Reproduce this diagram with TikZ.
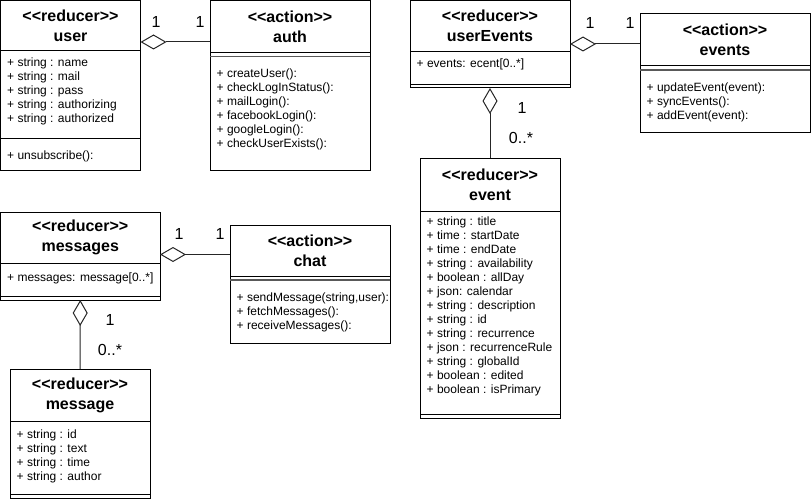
\documentclass[tikz,border=0pt]{standalone}
\usepackage{fontspec}
\setmainfont{Liberation Sans}
\usetikzlibrary{arrows.meta,calc}

% stereotype in guillemet-free form: the kerns keep << and >> as two characters each
\newcommand\stereo[1]{<\kern0pt<#1>\kern0pt>}

% #1 name, #2 x, #3 y, #4 width, #5 height, #6 header height, #7 header text
\newcommand\umlbox[7]{%
  \node[box, minimum width=#4pt, minimum height=#5pt] (#1) at (#2,#3) {};
  \node[head] (#1-head) at ($(#1.north)+(0,{#6/2})$) {#7};
  \draw[rule] ($(#1.north west)+(0,#6)$) -- ($(#1.north east)+(0,#6)$);
}
% #1 line style, #2 box name, #3 offset from top
\newcommand\umlrule[3]{%
  \draw[#1] ($(#2.north west)+(0,#3)$) -- ($(#2.north east)+(0,#3)$);
}
% #1 prefix of node names, #2 box name, #3 first baseline offset, #4 lines
\newcommand\umlmembers[4]{%
  \foreach \t [count=\i] in {#4}
    \node[member] (#1\i) at ($(#2.north west)+(6.5,{#3+14*(\i-1)})$) {\t};
}

\begin{document}
\begin{tikzpicture}[x=1pt,y=-1pt,
  box/.style={draw, line width=1pt, inner sep=0pt, outer sep=0pt, anchor=north west},
  head/.style={align=center, inner sep=0pt, font=\fontsize{16}{20}\selectfont\bfseries},
  member/.style={anchor=base west, inner sep=0pt, font=\fontsize{12}{14}\selectfont},
  rule/.style={line width=1pt},
  sepline/.style={line width=1.6pt, draw=black!65},
  agg/.style={line width=1pt, draw=black!85, -{Diamond[open, length=26pt, width=15pt]}},
  mult/.style={inner sep=0pt, font=\fontsize{16}{19}\selectfont}]

\useasboundingbox (0,0) rectangle (811,500);

% ---- user / auth ----
\umlbox{user}{0.5}{0.5}{140}{169.5}{50}{\stereo{reducer}\\user}
\umlrule{rule}{user}{138}
\umlmembers{user-a}{user}{66}{{+ string : name},{+ string : mail},{+ string : pass},{+ string : authorizing},{+ string : authorized}}
\umlmembers{user-m}{user}{159}{{+ unsubscribe():}}

\umlbox{auth}{210}{0.5}{160}{169.5}{52}{\stereo{action}\\auth}
\umlrule{sepline}{auth}{56}
\umlmembers{auth-m}{auth}{77}{{+ createUser():},{+ checkLogInStatus():},{+ mailLogin():},{+ facebookLogin():},{+ googleLogin():},{+ checkUserExists():}}

% ---- userEvents / events / event ----
\umlbox{userEvents}{410}{0.5}{160}{87.5}{51}{\stereo{reducer}\\userEvents}
\umlrule{rule}{userEvents}{84}
\umlmembers{userEvents-a}{userEvents}{67}{{+ events: ecent[0..*]}}

\umlbox{events}{640}{14}{170}{119}{52}{\stereo{action}\\events}
\umlrule{sepline}{events}{56}
\umlmembers{events-m}{events}{78}{{+ updateEvent(event):},{+ syncEvents():},{+ addEvent(event):}}

\umlbox{event}{420}{158}{140}{260}{53}{\stereo{reducer}\\event}
\umlrule{rule}{event}{256}
\umlmembers{event-a}{event}{67}{{+ string : title},{+ time : startDate},{+ time : endDate},{+ string : availability},{+ boolean : allDay},{+ json: calendar},{+ string : description},{+ string : id},{+ string : recurrence},{+ json : recurrenceRule},{+ string : globalId},{+ boolean : edited},{+ boolean : isPrimary}}

% ---- messages / chat / message ----
\umlbox{messages}{0.5}{212}{159.5}{88}{51}{\stereo{reducer}\\messages}
\umlrule{rule}{messages}{84}
\umlmembers{messages-a}{messages}{69}{{+ messages: message[0..*]}}

\umlbox{chat}{230}{225}{160}{118}{51}{\stereo{action}\\chat}
\umlrule{sepline}{chat}{55}
\umlmembers{chat-m}{chat}{76}{{+ sendMessage(string,user):},{+ fetchMessages():},{+ receiveMessages():}}

\umlbox{message}{10}{369}{140}{129}{52}{\stereo{reducer}\\message}
\umlrule{rule}{message}{125}
\umlmembers{message-a}{message}{69}{{+ string : id},{+ string : text},{+ string : time},{+ string : author}}

% ---- aggregations ----
\draw[agg] ($(auth.north west)+(0,41.5)$) coordinate (ua) -- (ua -| user.east);
\draw[agg] ($(events.north west)+(0,30)$) coordinate (ee) -- (ee -| userEvents.east);
\draw[agg] ($(chat.north west)+(0,29.5)$) coordinate (cm) -- (cm -| messages.east);
\draw[agg] (event.north) -- (userEvents.south);
\draw[agg] (message.north) -- (messages.south);

% ---- multiplicities ----
\node[mult] (m-ua1) at (156,22) {1};
\node[mult] (m-ua2) at (200,22) {1};
\node[mult] (m-ee1) at (590,23) {1};
\node[mult] (m-ee2) at (630,23) {1};
\node[mult] (m-ev1) at (522,108) {1};
\node[mult] (m-ev2) at (521,138) {0..*};
\node[mult] (m-cm1) at (179,234) {1};
\node[mult] (m-cm2) at (220,234) {1};
\node[mult] (m-ms1) at (110,320) {1};
\node[mult] (m-ms2) at (110,350) {0..*};
\end{tikzpicture}
\end{document}
